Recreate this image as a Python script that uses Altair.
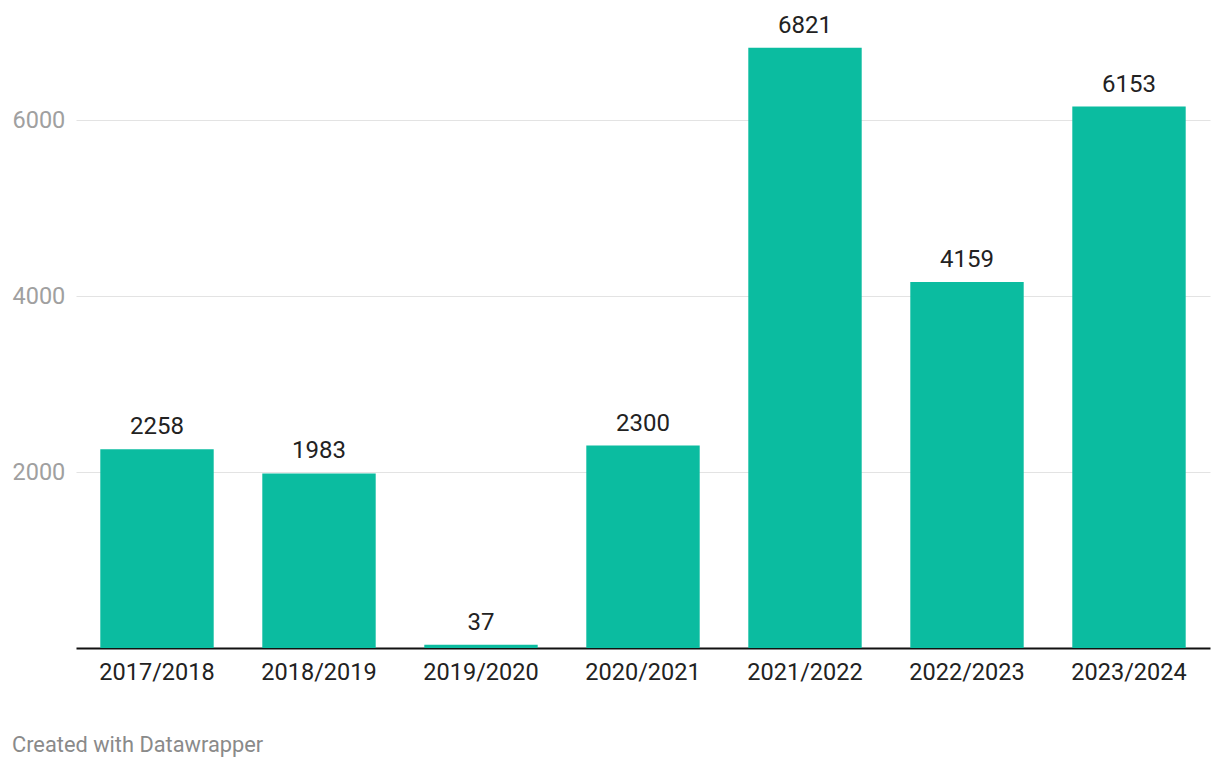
import altair as alt
import pandas as pd

seasons = ["2017/2018", "2018/2019", "2019/2020", "2020/2021", "2021/2022", "2022/2023", "2023/2024"]
values = [2258, 1983, 37, 2300, 6821, 4159, 6153]
y_ticks = [2000, 4000, 6000]

df = pd.DataFrame({"season": seasons, "value": values})
FONT = "Roboto"

x = alt.X("season:N", sort=seasons, title=None,
          scale=alt.Scale(paddingInner=0.3, paddingOuter=0.15),
          axis=alt.Axis(labelAngle=0, labelFont=FONT, labelFontSize=23.5, labelColor="#222222",
                        labelPadding=12, ticks=False, domain=True, domainColor="#111111",
                        domainWidth=2, grid=False))
y = alt.Y("value:Q", title=None, scale=alt.Scale(domain=[0, 7000], nice=False),
          axis=alt.Axis(values=y_ticks, format="d", labelFont=FONT, labelFontSize=23.5,
                        labelColor="#a0a0a0", labelAlign="left", labelPadding=64, ticks=False,
                        domain=False, grid=True, gridColor="#e3e3e3", gridWidth=1.2))

bars = alt.Chart(df).mark_bar(color="#0bbca0").encode(x=x, y=y)
labels = alt.Chart(df).mark_text(font=FONT, fontSize=24, color="#222222", dy=-15,
                                 baseline="alphabetic").encode(x=x, y=y, text="value:Q")
credit = alt.Chart(pd.DataFrame({"t": ["Created with Datawrapper"]})).mark_text(
    font=FONT, fontSize=21.8, color="#8a8a8a", align="left", baseline="middle"
).encode(x=alt.value(-64), y=alt.value(713), text="t:N")

chart = alt.layer(bars, labels, credit).properties(
    width=1134, height=616,
    autosize=alt.AutoSizeParams(type="none"),
    padding={"left": 68, "top": 24, "right": 2, "bottom": 112},
).configure(background="white").configure_view(stroke=None, strokeWidth=0)

chart.save("out.html", embed_options={"renderer": "svg", "actions": False})
